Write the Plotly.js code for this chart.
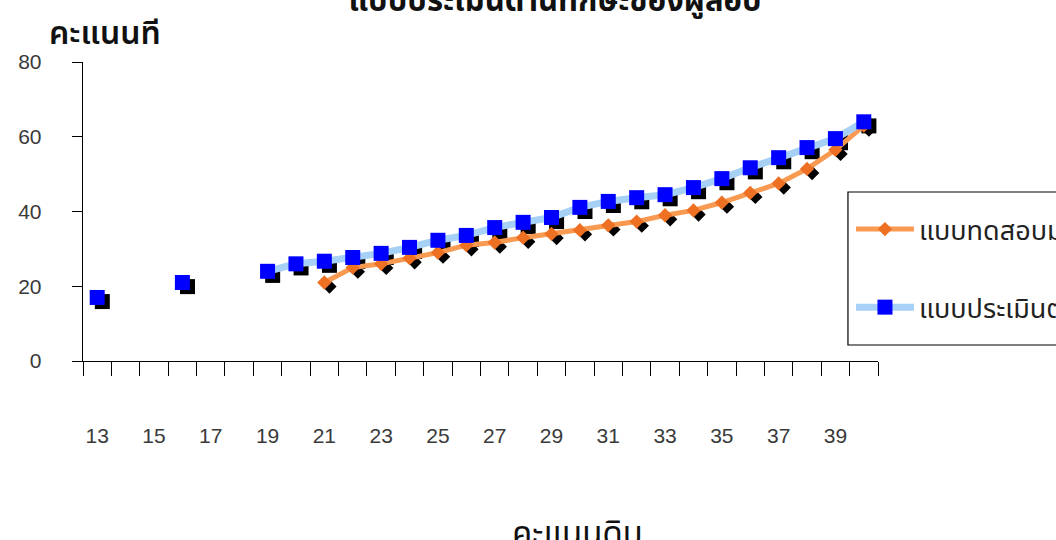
<!DOCTYPE html>
<html>
<head>
<meta charset="utf-8">
<script src="https://cdn.plot.ly/plotly-3.0.1.min.js"></script>
<style>html,body{margin:0;padding:0;background:#fff;}#chart{width:1056px;height:540px;}</style>
</head>
<body>
<div id="chart"></div>
<script>
// ---- data ----
const categories = [13,14,15,16,17,18,19,20,21,22,23,24,25,26,27,28,29,30,31,32,33,34,35,36,37,38,39,40];
const testScores = [null,null,null,null,null,null,null,null,21,25,26,27.5,29,31,31.7,33,34,35,36.3,37.3,39,40.3,42.4,45,47.5,51.4,56.5,63];
const evalScores = [17,null,null,21,null,null,24,26,26.7,27.7,28.8,30.4,32.3,33.6,35.7,37.1,38.4,41.1,42.7,43.7,44.5,46.4,48.8,51.7,54.4,57.1,59.5,64];
const seriesNames = ['แบบทดสอบมาตรฐาน', 'แบบประเมินตนเอง'];
const xTickVals = [13,15,17,19,21,23,25,27,29,31,33,35,37,39];
const xTickText = ['13','15','17','19','21','23','25','27','29','31','33','35','37','39'];
const yTickVals = [0,20,40,60,80];
const chartTitle = 'แบบประเมินด้านทักษะของผู้สอบ';
const yTitle = 'คะแนนที';
const xTitle = 'คะแนนดิบ';

// ---- layout helpers ----
const thai = "Tahoma, 'Noto Sans Thai', 'Loma', 'DejaVu Sans', sans-serif";
const xRange = [12.5, 40.5];
const yRange = [0, 80];
const shX = 0.18, shY = 1.1;  // shadow offset in data units (via axis range only)

const traces = [
  // shadows (on shifted hidden axes)
  {x: categories, y: testScores, xaxis:'x2', yaxis:'y2', mode:'markers', showlegend:false, hoverinfo:'skip',
   marker:{symbol:'diamond', size:11, color:'#000'}},
  {x: categories, y: evalScores, xaxis:'x2', yaxis:'y2', mode:'markers', showlegend:false, hoverinfo:'skip',
   marker:{symbol:'square', size:15, color:'#000'}},
  // real series
  {x: categories, y: testScores, xaxis:'x3', yaxis:'y3', mode:'lines+markers', name: seriesNames[0],
   legendgroup:'a', connectgaps:false,
   line:{color:'#F99A52', width:5}, marker:{symbol:'diamond', size:11, color:'#EE7022'}},
  {x: categories, y: evalScores, xaxis:'x3', yaxis:'y3', mode:'lines+markers', name: seriesNames[1],
   legendgroup:'b', connectgaps:false,
   line:{color:'#A6D0F5', width:7}, marker:{symbol:'square', size:15, color:'#0000FF'}},
  // anchor trace for main axes
  {x: [categories[0]], y: [null], xaxis:'x', yaxis:'y', mode:'markers', showlegend:false, hoverinfo:'skip'}
];

const layout = {
  width:1056, height:540,
  paper_bgcolor:'#fff', plot_bgcolor:'rgba(0,0,0,0)',
  margin:{l:83, r:178, t:62, b:179, autoexpand:false},
  showlegend:true,
  title:{text: chartTitle, x: 555/1056, xanchor:'center', xref:'container', y:1, yanchor:'middle', yref:'container',
         font:{size:31, color:'#111', family: thai, weight: 700}},
  xaxis:{range:xRange, showgrid:false, zeroline:false, showline:true, linecolor:'#000', linewidth:1.3,
         tickmode:'array', tickvals:xTickVals, ticktext:xTickText, ticks:'', ticklabelstandoff:55,
         tickfont:{size:21, color:'#3a3a3a', family:"'Liberation Sans', Arial, sans-serif"},
         minor:{tickmode:'linear', tick0:12.5, dtick:1, ticks:'outside', ticklen:14, tickcolor:'#000', tickwidth:1, showgrid:false}},
  yaxis:{range:yRange, showgrid:false, zeroline:false, showline:true, linecolor:'#000', linewidth:1.3,
         tickmode:'array', tickvals:yTickVals, ticks:'outside', ticklen:10, tickcolor:'#000', tickwidth:1,
         ticklabelstandoff:26, tickfont:{size:21, color:'#3a3a3a', family:"'Liberation Sans', Arial, sans-serif"}},
  xaxis2:{overlaying:'x', anchor:'y2', range:[xRange[0]-shX, xRange[1]-shX], visible:false},
  yaxis2:{overlaying:'y', anchor:'x2', range:[yRange[0]+shY, yRange[1]+shY], visible:false},
  xaxis3:{overlaying:'x', anchor:'y3', range:xRange, visible:false},
  yaxis3:{overlaying:'y', anchor:'x3', range:yRange, visible:false},
  legend:{x:(850-83)/794, y:(361-205)/299, xanchor:'left', yanchor:'top', borderwidth:0, bgcolor:'rgba(0,0,0,0)',
          itemwidth:58,
          font:{size:27, color:'#222', family: thai}, traceorder:'grouped', tracegroupgap:40},
  shapes:[
    {type:'rect', xref:'paper', yref:'paper', x0:(847-83)/794, x1:1.3, y0:(361-345)/299, y1:(361-192)/299,
     line:{color:'#000', width:1.2}, fillcolor:'rgba(0,0,0,0)', layer:'below'}
  ],
  annotations:[
    {text: yTitle, xref:'paper', yref:'paper', x:-0.045, y:1.093, xanchor:'left', yanchor:'middle', showarrow:false,
     font:{size:32, color:'#111', family: thai, weight:600}},
    {text: xTitle, xref:'paper', yref:'paper', x:0.622, y:-0.49, xanchor:'center', yanchor:'top', showarrow:false,
     font:{size:33, color:'#111', family: thai}}
  ]
};

Plotly.newPlot('chart', traces, layout, {staticPlot:true, displayModeBar:false});
</script>
</body>
</html>
